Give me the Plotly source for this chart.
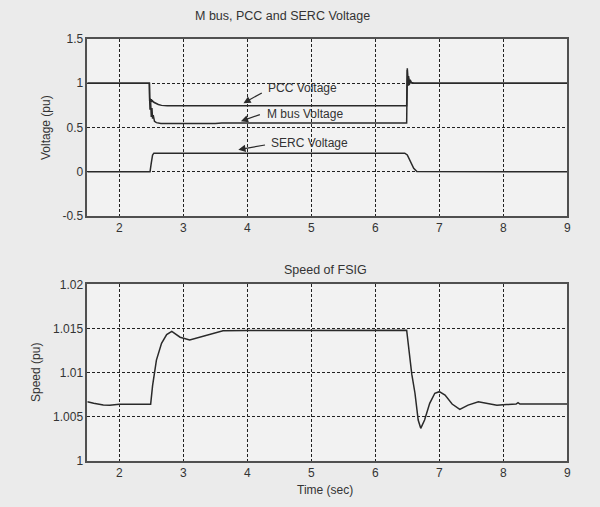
import plotly.graph_objects as go

# ---------------- data ----------------
pcc_t = [1.5, 2.47, 2.475, 2.48, 2.49, 2.50, 2.51, 2.52, 2.54, 2.57, 2.61, 2.66, 2.75, 6.49, 6.495, 6.50, 6.51, 6.52, 6.53, 6.545, 6.56, 6.6, 6.7, 9.0]
pcc_v = [1.0, 1.0, 0.80, 0.83, 0.78, 0.82, 0.79, 0.80, 0.785, 0.77, 0.76, 0.75, 0.745, 0.745, 1.10, 1.17, 1.0, 1.08, 0.99, 1.04, 1.01, 1.0, 1.0, 1.0]

mbus_t = [1.5, 2.47, 2.475, 2.48, 2.49, 2.50, 2.51, 2.52, 2.53, 2.55, 2.58, 2.65, 3.5, 3.6, 6.49, 6.495, 6.50, 6.51, 6.52, 6.53, 6.545, 6.56, 6.6, 6.7, 9.0]
mbus_v = [1.0, 1.0, 0.80, 0.70, 0.78, 0.62, 0.72, 0.60, 0.64, 0.57, 0.555, 0.545, 0.545, 0.55, 0.55, 1.05, 1.15, 0.97, 1.06, 0.98, 1.03, 1.005, 1.0, 1.0, 1.0]

serc_t = [1.5, 2.48, 2.50, 2.52, 2.54, 6.46, 6.50, 6.55, 6.60, 6.65, 9.0]
serc_v = [0.0, 0.0, 0.10, 0.19, 0.21, 0.21, 0.19, 0.12, 0.04, 0.003, 0.0]

speed_t = [1.5, 1.6, 1.75, 1.85, 2.0, 2.49, 2.52, 2.58, 2.66, 2.74, 2.82, 2.95, 3.1, 3.26, 3.47, 3.62, 3.99, 6.49,
           6.57, 6.62, 6.67, 6.71, 6.77, 6.85, 6.93, 7.0, 7.09, 7.2, 7.32, 7.45, 7.61, 7.76, 7.9, 8.05, 8.2, 8.23, 8.26, 9.0]
speed_v = [1.00668, 1.0065, 1.00632, 1.00627, 1.0064, 1.0064, 1.0085, 1.0114, 1.0133, 1.0143, 1.01465, 1.0140, 1.01369, 1.0140, 1.01445, 1.01472, 1.01475, 1.0148,
           1.0098, 1.00764, 1.0046, 1.00366, 1.0046, 1.0065, 1.00764, 1.00782, 1.00744, 1.00642, 1.00582, 1.0063, 1.00668, 1.0065, 1.00627, 1.00635, 1.00642, 1.00657, 1.00642, 1.00642]

x_ticks = [2, 3, 4, 5, 6, 7, 8, 9]
v_ticks = [-0.5, 0, 0.5, 1, 1.5]
v_tick_text = ["-0.5", "0", "0.5", "1", "1.5"]
s_ticks = [1.0, 1.005, 1.01, 1.015, 1.02]
s_tick_text = ["1", "1.005", "1.01", "1.015", "1.02"]

# ---------------- figure ----------------
W, H = 600, 507
LINE = "#2a2a2a"
FONT = "Liberation Sans, Arial, sans-serif"
TXT = "#333333"

fig = go.Figure()
for t, v in [(pcc_t, pcc_v), (mbus_t, mbus_v), (serc_t, serc_v)]:
    fig.add_trace(go.Scatter(x=t, y=v, mode="lines", line=dict(color=LINE, width=1.5),
                             xaxis="x", yaxis="y", showlegend=False, hoverinfo="skip"))
fig.add_trace(go.Scatter(x=speed_t, y=speed_v, mode="lines", line=dict(color=LINE, width=1.5),
                         xaxis="x2", yaxis="y2", showlegend=False, hoverinfo="skip"))

def px_x(p):
    return p / W

def px_y(p):
    return 1 - p / H

x_dom = [px_x(87.3), px_x(567.3)]
axis_common = dict(
    showline=True, mirror=True, linecolor="#505050", linewidth=1.5,
    showgrid=True, gridcolor="#222222", gridwidth=1, griddash="3px,2px",
    zeroline=False, ticks="", tickfont=dict(family=FONT, size=12, color=TXT),
    fixedrange=True, automargin=False,
)

fig.update_layout(
    width=W, height=H, autosize=False,
    margin=dict(l=0, r=0, t=0, b=0, pad=0),
    paper_bgcolor="#ebebeb",
    plot_bgcolor="#f2f2f2",
    font=dict(family=FONT, size=12, color=TXT),
    xaxis=dict(domain=x_dom, range=[1.5, 9], tickvals=x_ticks, anchor="y", **axis_common),
    yaxis=dict(domain=[px_y(216), px_y(39)], range=[-0.5, 1.5], tickvals=v_ticks, ticktext=v_tick_text,
               anchor="x", **axis_common),
    xaxis2=dict(domain=x_dom, range=[1.5, 9], tickvals=x_ticks, anchor="y2", **axis_common),
    yaxis2=dict(domain=[px_y(460.6), px_y(284.3)], range=[1.0, 1.02], tickvals=s_ticks, ticktext=s_tick_text,
                anchor="x2", **axis_common),
)

ann = []
def paper_text(txt, x, y, size=12, angle=0):
    ann.append(dict(text=txt, x=px_x(x), y=px_y(y), xref="paper", yref="paper", xanchor="center",
                    yanchor="middle", textangle=angle, showarrow=False, font=dict(size=size, color=TXT)))

paper_text("M bus, PCC and SERC Voltage", 282, 16, 12.5)
paper_text("Speed of FSIG", 325, 270, 12.5)
paper_text("Time (sec)", 325, 490, 12)
paper_text("Voltage (pu)", 46, 128, 12, -90)
paper_text("Speed (pu)", 36, 373, 12, -90)

# labels with arrows (data coordinates): text-left x, text y, tail x, tail y, head x, head y
labels = [
    ("PCC Voltage", 4.29, 0.946, 4.25, 0.90, 3.94, 0.775),
    ("M bus Voltage", 4.27, 0.652, 4.22, 0.652, 3.90, 0.57),
    ("SERC Voltage", 4.34, 0.32, 4.30, 0.305, 3.86, 0.25),
]
for txt, tx, ty, axx, ayy, hx, hy in labels:
    ann.append(dict(text=txt, x=tx, y=ty, xref="x", yref="y", xanchor="left", yanchor="middle",
                    showarrow=False, font=dict(size=12, color=TXT)))
    ann.append(dict(text="", x=hx, y=hy, ax=axx, ay=ayy, xref="x", yref="y", axref="x", ayref="y",
                    showarrow=True, arrowhead=2, arrowsize=1.2, arrowwidth=1.2, arrowcolor=LINE))

fig.update_layout(annotations=ann)
fig.write_html("out.html", config={"responsive": False, "displayModeBar": False},
               post_script="document.body.style.margin='0';document.body.style.overflow='hidden';")
